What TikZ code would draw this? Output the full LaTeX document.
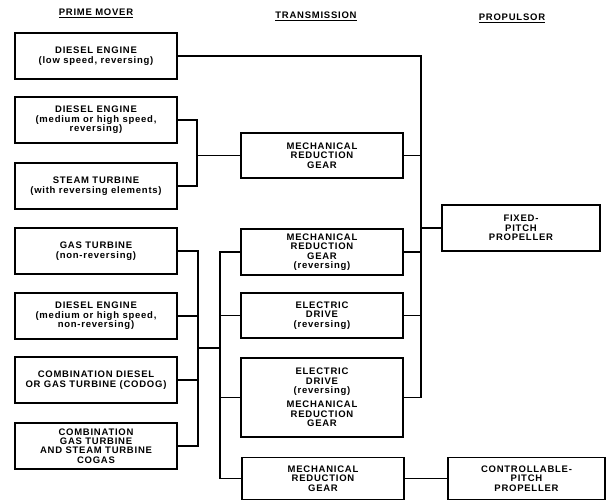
\documentclass[tikz,border=0pt]{standalone}
\usepackage{fontspec}
\setmainfont{Liberation Sans}
\newfontfamily\boxfont[LetterSpace=8]{Liberation Sans}
\begin{document}
\begin{tikzpicture}[x=1pt, y=-1pt, line width=1.1pt,
  unit/.style={draw, line width=1.2pt, align=center, inner sep=0pt,
    font=\boxfont\bfseries\fontsize{9.5}{9.4}\selectfont},
  mover/.style={unit, minimum width=162pt, minimum height=46pt},
  trans/.style={unit, minimum width=162pt, minimum height=45pt},
  prop/.style={unit, minimum width=158pt, minimum height=45pt},
  head/.style={font=\boxfont\bfseries\fontsize{9.5}{9.4}\selectfont}]
\useasboundingbox (0,0) rectangle (606,501);
% column heads
\node[head] (hmover) at (96,13) {\underline{PRIME MOVER}};
\node[head] (htrans) at (316,16) {\underline{TRANSMISSION}};
\node[head] (hprop) at (512,18) {\underline{PROPULSOR}};
% prime movers
\node[mover] (diesel1) at (96,56) {DIESEL ENGINE\\(low speed, reversing)};
\node[mover] (diesel2) at (96,120) {DIESEL ENGINE\\(medium or high speed,\\reversing)};
\node[mover] (steam) at (96,186) {STEAM TURBINE\\(with reversing elements)};
\node[mover] (gas) at (96,251) {GAS TURBINE\\(non-reversing)};
\node[mover] (diesel3) at (96,316) {DIESEL ENGINE\\(medium or high speed,\\non-reversing)};
\node[mover] (codog) at (96,380) {COMBINATION DIESEL\\OR GAS TURBINE (CODOG)};
\node[mover] (cogas) at (96,446) {COMBINATION\\GAS TURBINE\\AND STEAM TURBINE\\COGAS};
% transmissions
\node[trans] (mrg1) at (322,155.5) {MECHANICAL\\REDUCTION\\GEAR};
\node[trans, minimum height=46pt] (mrg2) at (322,252) {MECHANICAL\\REDUCTION\\GEAR\\(reversing)};
\node[trans] (elec1) at (322,315.5) {ELECTRIC\\DRIVE\\(reversing)};
\node[trans, minimum height=79pt] (elec2) at (322,397.5) {ELECTRIC\\DRIVE\\(reversing)\\[5pt]MECHANICAL\\REDUCTION\\GEAR};
\node[trans, minimum height=42pt] (mrg3) at (323,478.5) {MECHANICAL\\REDUCTION\\GEAR};
% propulsors
\node[prop, minimum height=46pt] (fixed) at (521,228) {FIXED-\\PITCH\\PROPELLER};
\node[prop, minimum height=42pt, minimum width=157pt] (cpp) at (526.5,478.5) {CONTROLLABLE-\\PITCH\\PROPELLER};
% buses
\coordinate (ubus) at (197,0);
\coordinate (lbus) at (198,0);
\coordinate (tbus) at (220,0);
\coordinate (rbus) at (421,0);
\coordinate (link) at (198,348);
\draw (diesel2.east) -- (diesel2.east -| ubus) -- (steam.east -| ubus) -- (steam.east);
\draw (mrg1.west) -- (mrg1.west -| ubus);
\draw (gas.east) -- (gas.east -| lbus) -- (cogas.east -| lbus) -- (cogas.east);
\foreach \n in {diesel3,codog}
{
    \draw (\n.east) -- (\n.east -| lbus);
}
\draw (link) -- (link -| tbus);
\draw (mrg2.west) -- (mrg2.west -| tbus) -- (mrg3.west -| tbus) -- (mrg3.west);
\foreach \n in {elec1,elec2}
{
    \draw (\n.west) -- (\n.west -| tbus);
}
\draw (diesel1.east) -- (diesel1.east -| rbus) -- (elec2.east -| rbus) -- (elec2.east);
\foreach \n in {mrg1,mrg2,elec1}
{
    \draw (\n.east) -- (\n.east -| rbus);
}
\draw (fixed.west) -- (fixed.west -| rbus);
\draw (mrg3.east) -- (cpp.west);
\end{tikzpicture}
\end{document}
